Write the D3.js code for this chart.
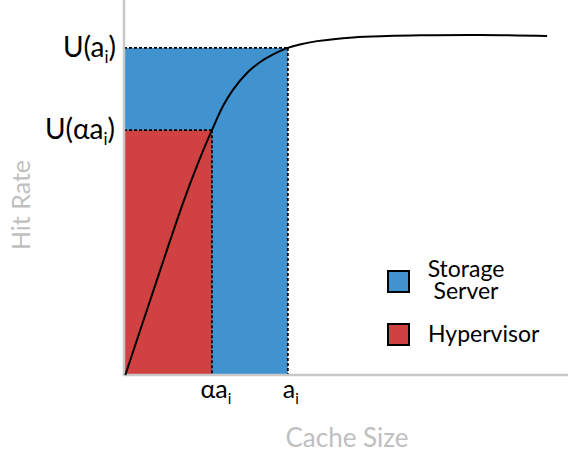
<!DOCTYPE html>
<html>
<head>
<meta charset="utf-8">
<script src="https://cdn.jsdelivr.net/npm/d3@7"></script>
<style>
  body { margin: 0; background: #fff; }
  svg { display: block; font-family: Lato, "Open Sans", sans-serif; }
</style>
</head>
<body>
<svg id="chart" width="568" height="452"></svg>
<script>
// hit-rate curve (cache size in %, hit rate 0..1)
const curveX = [0.3, 5.9, 13.3, 16.7, 19.8, 22.3, 24.5, 27.7, 30.6, 33.6, 36.9, 39.6, 43.5, 51.6, 59.2, 66.7, 80.2, 95.3];
const curveY = [0, 0.22, 0.506, 0.624, 0.72, 0.791, 0.838, 0.888, 0.92, 0.943, 0.962, 0.972, 0.982, 0.993, 0.997, 0.999, 1.0, 0.997];

const allocA = 36.9;        // a_i
const allocAlphaA = 19.8;   // alpha * a_i
const hitA = 0.962;         // U(a_i)
const hitAlphaA = 0.72;     // U(alpha a_i)

const legendItems = [
  { lines: ['Storage', 'Server'], color: '#4193d0' },
  { lines: ['Hypervisor'], color: '#d04142' }
];

const svg = d3.select('#chart');
const x = d3.scaleLinear().domain([0, 100]).range([124, 568]);
const y = d3.scaleLinear().domain([0, 1]).range([375, 35]);

const axisColor = '#c8c8c8';
const labelGray = '#bfbfbf';

// filled areas
svg.append('rect')
  .attr('x', x(0)).attr('y', y(hitA))
  .attr('width', x(allocA) - x(0)).attr('height', y(0) - y(hitA))
  .attr('fill', legendItems[0].color);

svg.append('rect')
  .attr('x', x(0)).attr('y', y(hitAlphaA))
  .attr('width', x(allocAlphaA) - x(0)).attr('height', y(0) - y(hitAlphaA))
  .attr('fill', legendItems[1].color);

// dotted guides
const guides = [
  [[0, hitA], [allocA, hitA]],
  [[allocA, hitA], [allocA, 0]],
  [[0, hitAlphaA], [allocAlphaA, hitAlphaA]],
  [[allocAlphaA, hitAlphaA], [allocAlphaA, 0]]
];
svg.selectAll('.guide')
  .data(guides)
  .join('line')
  .attr('class', 'guide')
  .attr('x1', d => x(d[0][0])).attr('y1', d => y(d[0][1]))
  .attr('x2', d => x(d[1][0])).attr('y2', d => y(d[1][1]))
  .attr('stroke', '#000')
  .attr('stroke-width', 1.8)
  .attr('stroke-dasharray', '3,2');

// axes (plain lines, no ticks)
svg.append('line')
  .attr('x1', x(0)).attr('x2', x(0))
  .attr('y1', 0).attr('y2', y(0) + 1)
  .attr('stroke', axisColor).attr('stroke-width', 2.5);
svg.append('line')
  .attr('x1', x(0) - 1).attr('x2', 568)
  .attr('y1', y(0)).attr('y2', y(0))
  .attr('stroke', axisColor).attr('stroke-width', 2.5);

// curve
const pts = curveX.map((v, i) => [v, curveY[i]]);
svg.append('path')
  .datum(pts)
  .attr('d', d3.line().x(d => x(d[0])).y(d => y(d[1])).curve(d3.curveCatmullRom.alpha(0.5)))
  .attr('fill', 'none')
  .attr('stroke', '#000')
  .attr('stroke-width', 2);

// labels with subscripts
function subLabel(g, main, sub, tail, size) {
  const t = g.append('text').attr('font-size', size).attr('fill', '#000');
  t.append('tspan').text(main);
  t.append('tspan').text(sub).attr('font-size', size * 0.6).attr('dy', size * 0.22);
  if (tail) t.append('tspan').text(tail).attr('dy', -size * 0.22);
  return t;
}

subLabel(svg, 'U(a', 'i', ')', 28)
  .attr('x', 116).attr('y', y(hitA) + 9).attr('text-anchor', 'end');
subLabel(svg, 'U(\u03b1a', 'i', ')', 28)
  .attr('x', 115).attr('y', y(hitAlphaA) + 9).attr('text-anchor', 'end');
subLabel(svg, '\u03b1a', 'i', null, 25)
  .attr('x', x(allocAlphaA) + 4).attr('y', 398).attr('text-anchor', 'middle');
subLabel(svg, 'a', 'i', null, 25)
  .attr('x', x(allocA) + 3).attr('y', 398).attr('text-anchor', 'middle');

// axis titles
svg.append('text')
  .attr('transform', 'translate(30,205) rotate(-90)')
  .attr('text-anchor', 'middle')
  .attr('font-size', 25)
  .attr('fill', labelGray)
  .text('Hit Rate');
svg.append('text')
  .attr('x', 347).attr('y', 447)
  .attr('text-anchor', 'middle')
  .attr('font-size', 26)
  .attr('fill', labelGray)
  .text('Cache Size');

// legend
const legend = svg.append('g').attr('transform', 'translate(388,271)');
legendItems.forEach((item, i) => {
  const g = legend.append('g').attr('transform', `translate(0,${i * 53})`);
  g.append('rect')
    .attr('width', 21).attr('height', 21)
    .attr('fill', item.color)
    .attr('stroke', '#000').attr('stroke-width', 2);
  item.lines.forEach((ln, j) => {
    g.append('text')
      .attr('x', item.lines.length > 1 ? 78 : 40)
      .attr('y', item.lines.length > 1 ? 6 + j * 22 : 18)
      .attr('text-anchor', item.lines.length > 1 ? 'middle' : 'start')
      .attr('font-size', 23)
      .attr('fill', '#000')
      .text(ln);
  });
});
</script>
</body>
</html>
